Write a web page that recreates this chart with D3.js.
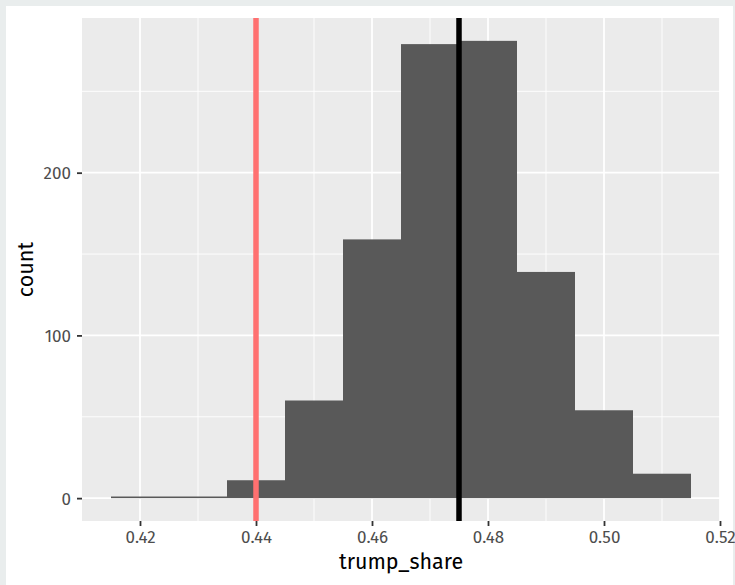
<!DOCTYPE html>
<html>
<head>
<meta charset="utf-8">
<script src="https://cdn.jsdelivr.net/npm/d3@7"></script>
<style>
	body { margin: 0; background: #e9eded; }
	svg { display: block; }
	text { font-family: "Fira Sans", "Open Sans", "Noto Sans", sans-serif; }
</style>
</head>
<body>
<div id="chart"></div>
<script>
// histogram bins (binwidth 0.01) and their counts
const binStarts = [0.415, 0.425, 0.435, 0.445, 0.455, 0.465, 0.475, 0.485, 0.495, 0.505]
const counts    = [1, 1, 11, 60, 159, 279, 281, 139, 54, 15]
const binWidth  = 0.01

const xTicks      = [0.42, 0.44, 0.46, 0.48, 0.50, 0.52]
const xMinorTicks = [0.43, 0.45, 0.47, 0.49, 0.51]
const yTicks      = [0, 100, 200]
const yMinorTicks = [50, 150, 250]

// reference lines
const vlines = [
	{ x: 0.44,  color: '#ff7070' },
	{ x: 0.475, color: '#000000' }
]

const W = 735, H = 585
const panel = { left: 82, right: 720, top: 18, bottom: 521 }

const xMin = binStarts[0], xMax = binStarts[binStarts.length - 1] + binWidth
const xPad = (xMax - xMin) * 0.05
const yMax = d3.max(counts), yPad = yMax * 0.05

const x = d3.scaleLinear()
	.domain([xMin - xPad, xMax + xPad])
	.range([panel.left, panel.right])

const y = d3.scaleLinear()
	.domain([-yPad, yMax + yPad])
	.range([panel.bottom, panel.top])

const svg = d3.select('#chart').append('svg')
	.attr('width', W)
	.attr('height', H)

svg.append('rect')
	.attr('width', W).attr('height', H)
	.attr('fill', '#e9eded')

svg.append('rect')
	.attr('x', 6).attr('y', 6)
	.attr('width', 727).attr('height', H)
	.attr('fill', '#ffffff')

// panel
svg.append('rect')
	.attr('x', panel.left).attr('y', panel.top)
	.attr('width', panel.right - panel.left)
	.attr('height', panel.bottom - panel.top)
	.attr('fill', '#ebebeb')

const grid = svg.append('g')

grid.selectAll('line.xminor')
	.data(xMinorTicks)
	.enter().append('line')
	.attr('x1', d => x(d)).attr('x2', d => x(d))
	.attr('y1', panel.top).attr('y2', panel.bottom)
	.attr('stroke', '#fff').attr('stroke-width', 0.9)

grid.selectAll('line.yminor')
	.data(yMinorTicks)
	.enter().append('line')
	.attr('y1', d => y(d)).attr('y2', d => y(d))
	.attr('x1', panel.left).attr('x2', panel.right)
	.attr('stroke', '#fff').attr('stroke-width', 0.9)

grid.selectAll('line.xmajor')
	.data(xTicks)
	.enter().append('line')
	.attr('x1', d => x(d)).attr('x2', d => x(d))
	.attr('y1', panel.top).attr('y2', panel.bottom)
	.attr('stroke', '#fff').attr('stroke-width', 1.8)

grid.selectAll('line.ymajor')
	.data(yTicks)
	.enter().append('line')
	.attr('y1', d => y(d)).attr('y2', d => y(d))
	.attr('x1', panel.left).attr('x2', panel.right)
	.attr('stroke', '#fff').attr('stroke-width', 1.8)

// bars
svg.append('g')
	.selectAll('rect')
	.data(binStarts.map((s, i) => ({ start: s, count: counts[i] })))
	.enter().append('rect')
	.attr('x', d => x(d.start))
	.attr('width', d => x(d.start + binWidth) - x(d.start))
	.attr('y', d => y(d.count))
	.attr('height', d => y(0) - y(d.count))
	.attr('fill', '#595959')

// vertical lines
svg.append('g')
	.selectAll('line')
	.data(vlines)
	.enter().append('line')
	.attr('x1', d => x(d.x)).attr('x2', d => x(d.x))
	.attr('y1', panel.top).attr('y2', panel.bottom)
	.attr('stroke', d => d.color)
	.attr('stroke-width', 5.5)

// axes
const xAxis = svg.append('g')
	.attr('transform', `translate(0,${panel.bottom})`)
	.call(d3.axisBottom(x).tickValues(xTicks).tickFormat(d3.format('.2f')).tickSize(5))

const yAxis = svg.append('g')
	.attr('transform', `translate(${panel.left},0)`)
	.call(d3.axisLeft(y).tickValues(yTicks).tickSize(5))

;[xAxis, yAxis].forEach(a => {
	a.select('.domain').remove()
	a.selectAll('.tick line').attr('stroke', '#333').attr('stroke-width', 1.8)
	a.selectAll('.tick text')
		.attr('fill', '#4d4d4d')
		.style('font-size', '17px')
})

xAxis.selectAll('.tick text').attr('y', 22).attr('dy', 0)
yAxis.selectAll('.tick text').attr('x', -11).attr('dy', '0.36em')

svg.append('text')
	.attr('x', (panel.left + panel.right) / 2)
	.attr('y', 569)
	.attr('text-anchor', 'middle')
	.style('font-size', '21.5px')
	.attr('fill', '#000')
	.text('trump_share')

svg.append('text')
	.attr('transform', `translate(33,${(panel.top + panel.bottom) / 2}) rotate(-90)`)
	.attr('text-anchor', 'middle')
	.style('font-size', '21.5px')
	.attr('fill', '#000')
	.text('count')
</script>
</body>
</html>
